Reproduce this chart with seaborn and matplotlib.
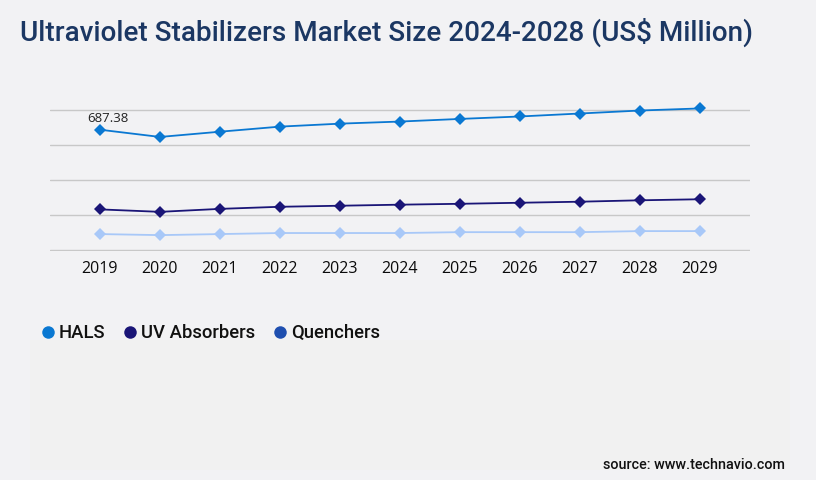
import matplotlib
matplotlib.use("Agg")
import matplotlib.pyplot as plt
from matplotlib.lines import Line2D
import seaborn as sns
import pandas as pd

years = [2019, 2020, 2021, 2022, 2023, 2024, 2025, 2026, 2027, 2028, 2029]
hals = [687.38, 646, 676, 705, 722, 734, 749, 763, 780, 797, 809]
uv_absorbers = [232, 218, 235, 247, 253, 259, 264, 270, 276, 284, 290]
quenchers = [91, 85, 91, 97, 97, 97, 102, 102, 102, 108, 108]
series_names = ["HALS", "UV Absorbers", "Quenchers"]
line_colors = ["#0a78d2", "#1a1577", "#a8c8f8"]
legend_colors = ["#0a78d2", "#1a1577", "#1f4fb0"]

df = pd.DataFrame({
    "year": years * 3,
    "value": hals + uv_absorbers + quenchers,
    "series": [s for s in series_names for _ in years],
})

sns.set_theme(style="white")
plt.rcParams["font.family"] = ["Roboto", "DejaVu Sans"]
bg = "#f2f2f4"

fig = plt.figure(figsize=(8.16, 4.8), dpi=100, facecolor=bg)
fig.patches.append(plt.Rectangle((30 / 816, 10 / 480), 760 / 816, 130 / 480,
                                 transform=fig.transFigure, facecolor="#f1f1f1",
                                 edgecolor="none", zorder=0))
ax = fig.add_axes([50 / 816, 229 / 480, 700 / 816, 142 / 480])
ax.set_facecolor(bg)
ax.patch.set_alpha(0)

sns.lineplot(data=df, x="year", y="value", hue="series", hue_order=series_names,
             palette=line_colors, style="series", markers=["D"] * 3, dashes=False,
             markersize=6.5, markeredgewidth=0, linewidth=1.3, ax=ax, legend=False,
             clip_on=False)

ax.set_xlim(years[0] - 50 / 60, years[-1] + 50 / 60)
ax.set_ylim(-1000 / 175, 800 + 1000 / 175)
ax.set_yticks([0, 200, 400, 600, 800])
ax.set_yticklabels([])
ax.set_xticks(years)
ax.set_xticklabels([str(y) for y in years], fontsize=11.5, color="#0a0a0a",
                   family=["Open Sans", "DejaVu Sans"])
ax.tick_params(axis="x", length=0, pad=7)
ax.tick_params(axis="y", length=0)
ax.grid(axis="y", color="#c8c8c8", linewidth=1)
ax.set_axisbelow(True)
for s in ax.spines.values():
    s.set_visible(False)
ax.set_xlabel("")
ax.set_ylabel("")

ax.annotate(f"{hals[0]:.2f}", (years[0], hals[0]), xytext=(6, 8),
            textcoords="offset points", ha="center", va="center", fontsize=9.5,
            color="#222222", family=["Open Sans", "DejaVu Sans"])

fig.text(387 / 816, 1 - 32 / 480, "Ultraviolet Stabilizers Market Size 2024-2028 (US$ Million)",
         ha="center", va="center", fontsize=20.1, fontweight="medium", color="#1b3763")

handles = [Line2D([], [], marker="o", linestyle="none", markersize=9,
                  markerfacecolor=c, markeredgewidth=0) for c in legend_colors]
fig.legend(handles, series_names, loc="center left", bbox_to_anchor=(20 / 816, 1 - 333 / 480),
           ncol=3, frameon=False, handletextpad=0.0, columnspacing=0.75,
           handlelength=1.2, labelcolor="#111111",
           prop={"weight": "medium", "size": 13.3})

fig.text(785 / 816, 1 - 465 / 480, "source: www.technavio.com", ha="right", va="center",
         fontsize=10.4, fontweight="medium", color="#111111")

fig.savefig("out.png", dpi=100, facecolor=bg)
